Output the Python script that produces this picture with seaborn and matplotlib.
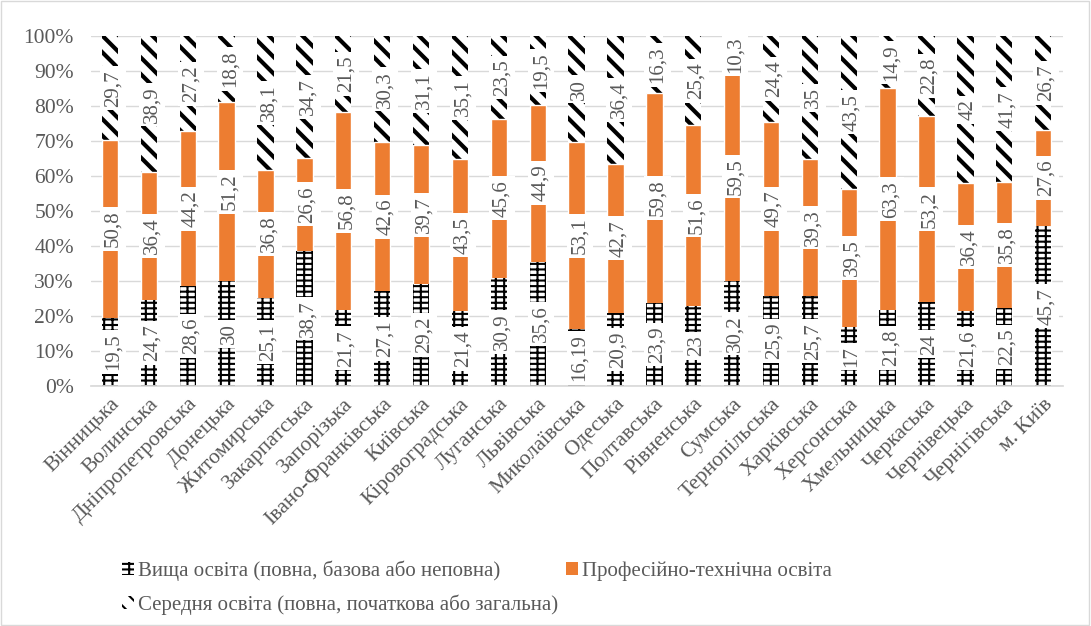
import numpy as np
import pandas as pd
import seaborn as sns
from matplotlib import pyplot as plt
from matplotlib.patches import Patch, Rectangle

regions = ['Вінницька', 'Волинська', 'Дніпропетровська', 'Донецька', 'Житомирська',
           'Закарпатська', 'Запорізька', 'Івано-Франківська', 'Київська', 'Кіровоградська',
           'Луганська', 'Львівська', 'Миколаївська', 'Одеська', 'Полтавська', 'Рівненська',
           'Сумська', 'Тернопільська', 'Харківська', 'Херсонська', 'Хмельницька',
           'Черкаська', 'Чернівецька', 'Чернігівська', 'м. Київ']
higher = [19.5, 24.7, 28.6, 30, 25.1, 38.7, 21.7, 27.1, 29.2, 21.4, 30.9, 35.6, 16.19,
          20.9, 23.9, 23, 30.2, 25.9, 25.7, 17, 21.8, 24, 21.6, 22.5, 45.7]
vocational = [50.8, 36.4, 44.2, 51.2, 36.8, 26.6, 56.8, 42.6, 39.7, 43.5, 45.6, 44.9, 53.1,
              42.7, 59.8, 51.6, 59.5, 49.7, 39.3, 39.5, 63.3, 53.2, 36.4, 35.8, 27.6]
secondary = [29.7, 38.9, 27.2, 18.8, 38.1, 34.7, 21.5, 30.3, 31.1, 35.1, 23.5, 19.5, 30,
             36.4, 16.3, 25.4, 10.3, 24.4, 35, 43.5, 14.9, 22.8, 42, 41.7, 26.7]
series_names = ['Вища освіта (повна, базова або неповна)',
                'Професійно-технічна освіта',
                'Середня освіта (повна, початкова або загальна)']

sns.set_theme(style="white")
plt.rcParams['font.family'] = 'serif'
plt.rcParams['font.serif'] = ['Liberation Serif', 'Times New Roman', 'DejaVu Serif']
grey = '#595959'

df = pd.DataFrame({'region': regions, 'h': higher, 'v': vocational, 's': secondary})
total = df[['h', 'v', 's']].sum(axis=1)
df['h_pct'] = df['h'] / total * 100
df['v_pct'] = df['v'] / total * 100
df['s_pct'] = df['s'] / total * 100
df['c1'] = df['h_pct']
df['c2'] = df['h_pct'] + df['v_pct']
df['c3'] = df['c2'] + df['s_pct']

fig = plt.figure(figsize=(10.91, 6.26), dpi=100)
ax = fig.add_axes([0.083, 0.383, 0.891, 0.559])


def style_hatch(patches, hatch, lw):
    for p in patches:
        p.set_hatch(hatch)
        p.set_edgecolor('black')
        p.set_linewidth(0)
        if hasattr(p, 'set_hatch_linewidth'):
            p.set_hatch_linewidth(lw)


w = 0.42
n = len(regions)
# stack by overdrawing cumulative totals, top layer first
plt.rcParams['hatch.linewidth'] = 3.0
sns.barplot(data=df, x='region', y='c3', color='white', width=w, ax=ax,
            saturation=1, zorder=2)
style_hatch(ax.patches[:n], '\\\\', 3.0)
sns.barplot(data=df, x='region', y='c2', color='#ED7D31', width=w, ax=ax,
            saturation=1, zorder=2)
plt.rcParams['hatch.linewidth'] = 1.5
sns.barplot(data=df, x='region', y='c1', color='white', width=w, ax=ax,
            saturation=1, zorder=2)
style_hatch(ax.patches[2 * n:3 * n], '---||', 1.5)


def fmt(v):
    return f"{v:g}".replace('.', ',')


for i, row in df.iterrows():
    mids = [row['c1'] / 2, row['c1'] + row['v_pct'] / 2, row['c2'] + row['s_pct'] / 2]
    for m, val in zip(mids, [row['h'], row['v'], row['s']]):
        ax.text(i + 0.08, m, fmt(val), rotation=90, ha='center', va='center', fontsize=15,
                color=grey, zorder=5,
                bbox=dict(facecolor='white', edgecolor='none', pad=2.5))

ax.set_ylim(0, 100)
ax.set_xlim(-0.5, n - 0.5)
ax.set_yticks(np.arange(0, 101, 10))
ax.set_yticklabels([f"{t}%" for t in range(0, 101, 10)], fontsize=15.5, color=grey)
ax.set_xlabel('')
ax.set_ylabel('')
ax.yaxis.grid(True, color='#d9d9d9', linewidth=1, zorder=0)
ax.set_axisbelow(True)
for s in ['top', 'right', 'left']:
    ax.spines[s].set_visible(False)
ax.spines['bottom'].set_color('#d9d9d9')
ax.tick_params(axis='y', length=0, pad=12)
ax.tick_params(axis='x', length=0, pad=6)
plt.setp(ax.get_xticklabels(), rotation=45, ha='right', rotation_mode='anchor',
         fontsize=15.5, color=grey)

handles = [Patch(facecolor='white', edgecolor='black', hatch='---||', linewidth=0),
           Patch(facecolor='white', edgecolor='black', hatch='\\\\', linewidth=0),
           Patch(facecolor='#ED7D31', edgecolor='none')]
labels = [series_names[0], series_names[2], series_names[1]]
fig.legend(handles, labels, ncol=2, loc='upper left', bbox_to_anchor=(0.095, 0.135),
           frameon=False, fontsize=15, labelcolor=grey, handlelength=0.55,
           handleheight=0.55, handletextpad=0.2, columnspacing=0.4, labelspacing=0.65)

fig.patches.append(Rectangle((0.001, 0.001), 0.997, 0.997, transform=fig.transFigure,
                             fill=False, edgecolor='#d9d9d9', linewidth=1))

plt.savefig("out.png", dpi=100)
